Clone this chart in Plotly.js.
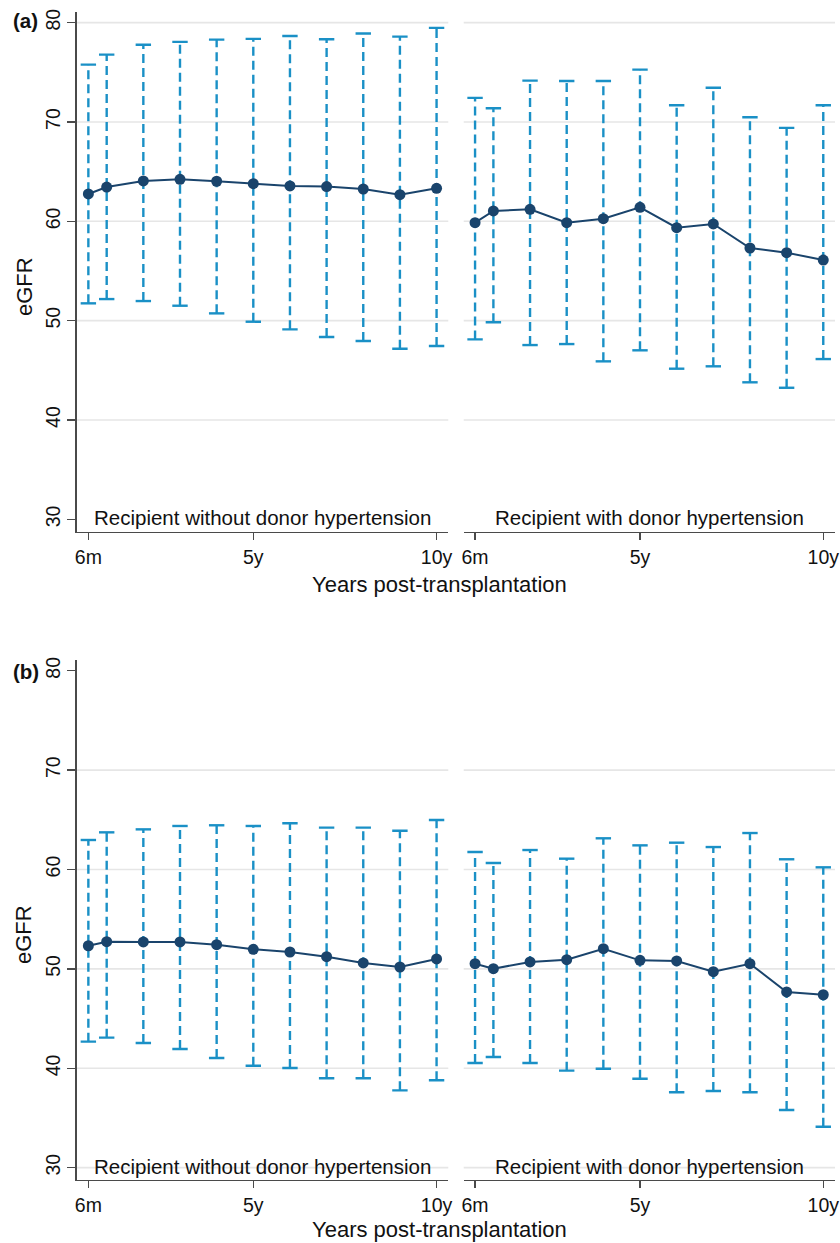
<!DOCTYPE html>
<html>
<head>
<meta charset="utf-8">
<script src="https://cdn.plot.ly/plotly-3.0.1.min.js"></script>
<style>html,body{margin:0;padding:0;background:#fff;}#chart{width:840px;height:1243px;}</style>
</head>
<body>
<div id="chart"></div>
<script>
// ---- data ----
const years = [0.5, 1, 2, 3, 4, 5, 6, 7, 8, 9, 10];
const xTickVals = [0.5, 5, 10];
const xTickText = ["6m", "5y", "10y"];
const yTickVals = [30, 40, 50, 60, 70, 80];
const gridA = [40, 50, 60, 70, 80];
const gridB = [30, 40, 50, 60, 70];
const panelNames = ["Recipient without donor hypertension", "Recipient with donor hypertension"];
const figLabels = ["(a)", "(b)"];
const xTitle = "Years post-transplantation";
const yTitle = "eGFR";

// (a) left: recipient without donor hypertension
const aNoMean = [62.75, 63.45, 64.06, 64.23, 64.03, 63.79, 63.56, 63.49, 63.25, 62.68, 63.32];
const aNoHi   = [75.77, 76.78, 77.78, 78.06, 78.29, 78.36, 78.66, 78.33, 78.90, 78.59, 79.47];
const aNoLo   = [51.74, 52.17, 51.97, 51.50, 50.73, 49.89, 49.12, 48.35, 47.95, 47.17, 47.44];
// (a) right: recipient with donor hypertension
const aYesMean = [59.86, 61.04, 61.21, 59.86, 60.26, 61.41, 59.36, 59.73, 57.31, 56.84, 56.10];
const aYesHi   = [72.42, 71.38, 74.16, 74.13, 74.13, 75.27, 71.68, 73.45, 70.47, 69.40, 71.68];
const aYesLo   = [48.11, 49.83, 47.54, 47.64, 45.90, 47.01, 45.16, 45.40, 43.79, 43.24, 46.13];
// (b) left
const bNoMean = [52.33, 52.74, 52.71, 52.71, 52.44, 51.97, 51.70, 51.23, 50.60, 50.19, 51.00];
const bNoHi   = [62.97, 63.74, 64.04, 64.38, 64.45, 64.38, 64.65, 64.21, 64.21, 63.90, 64.98];
const bNoLo   = [42.68, 43.08, 42.55, 41.94, 41.04, 40.26, 40.03, 38.99, 38.99, 37.78, 38.79];
// (b) right
const bYesMean = [50.52, 50.02, 50.70, 50.93, 52.03, 50.86, 50.80, 49.72, 50.52, 47.68, 47.40];
const bYesHi   = [61.76, 60.65, 61.96, 61.09, 63.14, 62.43, 62.70, 62.26, 63.67, 61.03, 60.22];
const bYesLo   = [40.53, 41.14, 40.53, 39.76, 39.96, 38.95, 37.59, 37.72, 37.59, 35.80, 34.12];

// ---- style ----
const W = 840, H = 1243;
const barColor = "#1a90c6";
const meanColor = "#1a446c";
const gridColor = "#e6e6e6";
const axisColor = "#4a4a4a";
const FONT = "Liberation Sans, Arial, Helvetica, sans-serif";
const px = v => v / W;
const py = v => 1 - v / H;

const panels = [
  {mean: aNoMean, hi: aNoHi, lo: aNoLo, xa: "x", ya: "y"},
  {mean: aYesMean, hi: aYesHi, lo: aYesLo, xa: "x2", ya: "y2"},
  {mean: bNoMean, hi: bNoHi, lo: bNoLo, xa: "x3", ya: "y3"},
  {mean: bYesMean, hi: bYesHi, lo: bYesLo, xa: "x4", ya: "y4"}
];

const traces = [];
panels.forEach(p => {
  const bx = [], by = [];
  years.forEach((x, i) => { bx.push(x, x, null); by.push(p.lo[i], p.hi[i], null); });
  traces.push({type: "scatter", mode: "lines", x: bx, y: by, xaxis: p.xa, yaxis: p.ya,
    line: {color: barColor, width: 2.4, dash: "9px,5px"}, hoverinfo: "skip", showlegend: false});
  traces.push({type: "scatter", mode: "markers", x: years.concat(years), y: p.hi.concat(p.lo),
    xaxis: p.xa, yaxis: p.ya, showlegend: false, hoverinfo: "skip",
    marker: {symbol: "line-ew", size: 11, color: barColor, line: {color: barColor, width: 2.4}}});
  traces.push({type: "scatter", mode: "lines+markers", x: years, y: p.mean, xaxis: p.xa, yaxis: p.ya,
    showlegend: false, line: {color: meanColor, width: 2}, marker: {color: meanColor, size: 11}});
});

const xL = [px(77), px(448.3)], xR = [px(463.7), px(835)];
const yA = [py(531.7), py(11.7)], yB = [py(1179.7), py(660)];
const rangeA = [28.75, 81.1], rangeB = [28.79, 81.08];
const xRange = [0.19, 10.32];

function xaxis(domain, anchor) {
  return {domain: domain, anchor: anchor, range: xRange, tickmode: "array", tickvals: xTickVals, ticktext: xTickText,
    showgrid: false, zeroline: false, showline: true, linecolor: axisColor, linewidth: 1.6,
    ticks: "outside", ticklen: 7, tickwidth: 1.4, tickcolor: axisColor,
    tickfont: {family: FONT, size: 19.5, color: "#111"}, fixedrange: true};
}
function yaxisLeft(domain, anchor, range) {
  return {domain: domain, anchor: anchor, range: range, tickmode: "array", tickvals: yTickVals,
    showgrid: false, zeroline: false, showline: true, linecolor: axisColor, linewidth: 1.6,
    ticks: "outside", ticklen: 8, tickwidth: 1.4, tickcolor: axisColor, tickangle: -90,
    tickfont: {family: FONT, size: 19.5, color: "#111"}, fixedrange: true};
}
function yaxisRight(domain, anchor, range) {
  return {domain: domain, anchor: anchor, range: range, showgrid: false, zeroline: false, showline: false,
    ticks: "", showticklabels: false, fixedrange: true};
}

const shapes = [];
[["y", gridA], ["y2", gridA], ["y3", gridB], ["y4", gridB]].forEach(([ya, g], k) => {
  const xa = ["x", "x2", "x3", "x4"][k];
  g.forEach(v => shapes.push({type: "line", layer: "below", xref: xa + " domain", x0: 0, x1: 1,
    yref: ya, y0: v, y1: v, line: {color: gridColor, width: 1.6}}));
});

const annotations = [];
const txt = (text, x, y, opts) => Object.assign({text: text, x: x, y: y, xref: "paper", yref: "paper",
  showarrow: false, xanchor: "center", yanchor: "middle", font: {family: FONT, size: 22, color: "#111"}}, opts || {});
// panel names
[[xL, 517.7], [xR, 517.7], [xL, 1166], [xR, 1166]].forEach(([d, yy], k) => {
  annotations.push(txt(panelNames[k % 2], (d[0] + d[1]) / 2, py(yy), {font: {family: FONT, size: 20.5, color: "#111"}}));
});
// axis titles
annotations.push(txt(xTitle, px(439), py(584)));
annotations.push(txt(xTitle, px(439), py(1229)));
annotations.push(txt(yTitle, px(24), py(287), {textangle: -90}));
annotations.push(txt(yTitle, px(24), py(935), {textangle: -90}));
// figure labels
annotations.push(txt(figLabels[0], px(25.5), py(20.5), {font: {family: FONT, size: 20.5, color: "#111", weight: "bold"}}));
annotations.push(txt(figLabels[1], px(25.5), py(672), {font: {family: FONT, size: 20.5, color: "#111", weight: "bold"}}));

const layout = {
  width: W, height: H, margin: {l: 0, r: 0, t: 0, b: 0}, paper_bgcolor: "#fff", plot_bgcolor: "#fff",
  showlegend: false, font: {family: FONT},
  xaxis: xaxis(xL, "y"), xaxis2: xaxis(xR, "y2"), xaxis3: xaxis(xL, "y3"), xaxis4: xaxis(xR, "y4"),
  yaxis: yaxisLeft(yA, "x", rangeA), yaxis2: yaxisRight(yA, "x2", rangeA),
  yaxis3: yaxisLeft(yB, "x3", rangeB), yaxis4: yaxisRight(yB, "x4", rangeB),
  shapes: shapes, annotations: annotations
};
Plotly.newPlot("chart", traces, layout, {displayModeBar: false, staticPlot: true});
</script>
</body>
</html>
